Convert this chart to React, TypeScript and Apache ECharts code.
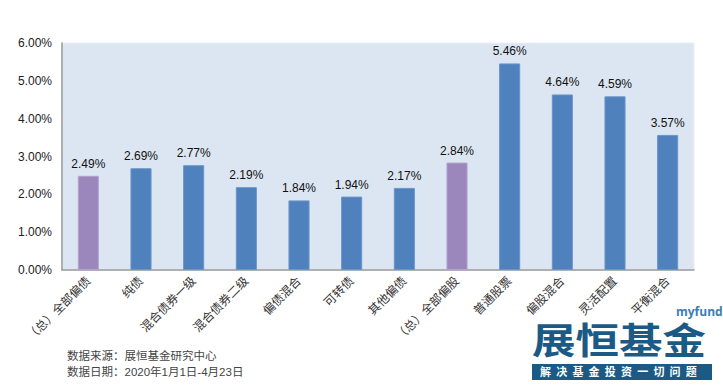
import React, { useEffect, useRef } from "react";
import * as echarts from "echarts";

const categories = [
  "（总）全部偏债",
  "纯债",
  "混合债券一级",
  "混合债券二级",
  "偏债混合",
  "可转债",
  "其他偏债",
  "（总）全部偏股",
  "普通股票",
  "偏股混合",
  "灵活配置",
  "平衡混合",
];
const values = [2.49, 2.69, 2.77, 2.19, 1.84, 1.94, 2.17, 2.84, 5.46, 4.64, 4.59, 3.57];
const highlighted = [0, 7];
const footnotes = ["数据来源：展恒基金研究中心", "数据日期：2020年1月1日-4月23日"];
const slogan = "解决基金投资一切问题";

const FONT = "'Liberation Sans', 'Noto Sans CJK SC', sans-serif";

export default function App() {
  const ref = useRef<HTMLDivElement>(null);
  useEffect(() => {
    if (!ref.current) return;
    const chart = echarts.init(ref.current, null, { renderer: "svg" });
    const sloganChars = slogan.split("").map((ch, i) => ({
      type: "text",
      left: 540 + i * 16.2,
      top: 365,
      style: { text: ch, fill: "#ffffff", font: `bold 11px 'Noto Sans CJK SC', sans-serif` },
    }));
    chart.setOption({
      animation: false,
      backgroundColor: "#ffffff",
      grid: {
        left: 62,
        right: 29,
        top: 43,
        bottom: 115,
        show: true,
        backgroundColor: "#DCE6F2",
        borderColor: "#E8EEF6",
        borderWidth: 1,
      },
      xAxis: {
        type: "category",
        data: categories,
        axisLine: { show: true, lineStyle: { color: "#9a9a9a", width: 1.5 } },
        axisTick: { show: false },
        axisLabel: {
          rotate: 45,
          interval: 0,
          margin: 9,
          fontSize: 12,
          color: "#333",
          fontFamily: FONT,
        },
      },
      yAxis: {
        type: "value",
        min: 0,
        max: 6,
        interval: 1,
        axisLine: { show: true, lineStyle: { color: "#9a9a9a", width: 1.5 } },
        axisTick: { show: false },
        splitLine: { show: false },
        axisLabel: {
          margin: 10,
          fontSize: 12,
          color: "#222",
          fontFamily: FONT,
          formatter: (v: number) => v.toFixed(2) + "%",
        },
      },
      series: [
        {
          type: "bar",
          barWidth: "40%",
          data: values.map((v, i) => ({
            value: v,
            itemStyle: {
              color: highlighted.includes(i) ? "#9C87BC" : "#4F81BD",
              borderColor: highlighted.includes(i) ? "#B3A2D0" : "#6A95C9",
              borderWidth: 1,
            },
          })),
          label: {
            show: true,
            position: "top",
            distance: 6,
            fontSize: 12,
            color: "#111",
            fontFamily: FONT,
            formatter: (p: any) => p.value.toFixed(2) + "%",
          },
        },
      ],
      graphic: [
        {
          type: "text",
          left: 67,
          top: 350,
          style: { text: footnotes[0], fill: "#444", font: `11.5px ${FONT}` },
        },
        {
          type: "text",
          left: 67,
          top: 366,
          style: { text: footnotes[1], fill: "#444", font: `11.5px ${FONT}` },
        },
        {
          type: "text",
          left: 676,
          top: 305,
          style: { text: "myfund", fill: "#3D7DB5", font: `bold 12px 'Open Sans', sans-serif` },
        },
        {
          type: "text",
          x: 532,
          y: 321,
          scaleX: 1.21,
          style: {
            text: "展恒基金",
            fill: "#1C5A86",
            font: `bold 36px 'Noto Sans CJK SC', sans-serif`,
          },
        },
        {
          type: "rect",
          shape: { x: 532, y: 364, width: 180, height: 16 },
          style: { fill: "#1C5A86" },
        },
        ...sloganChars,
      ],
    });
    return () => chart.dispose();
  }, []);
  return (
    <div
      ref={ref}
      style={{ position: "fixed", left: 0, top: 0, width: 723, height: 385 }}
    />
  );
}
